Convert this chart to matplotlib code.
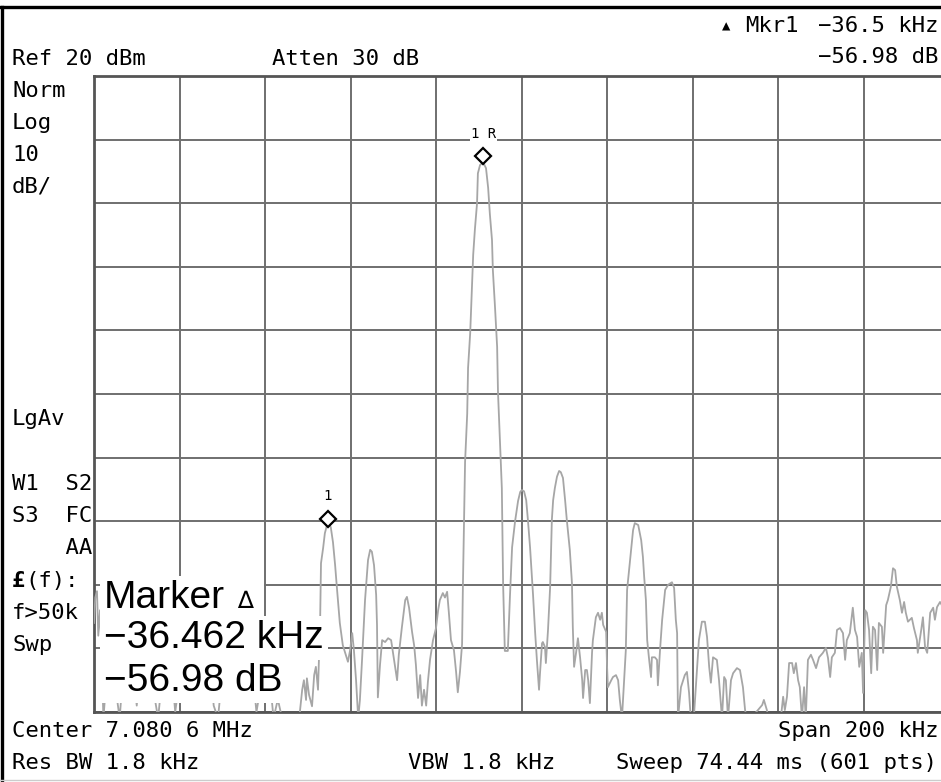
import matplotlib
matplotlib.use('Agg')
import matplotlib.pyplot as plt
import numpy as np
from matplotlib import transforms
from matplotlib.lines import Line2D
from matplotlib.patches import Rectangle

# screen capture size in pixels
W, H = 941, 782

# trace: offset from centre (kHz) and level (dBm)
freq_khz = [
    -100.0, -99.7, -99.3, -99.0, -98.6, -98.3, -97.8, -97.0, -96.0, -95.0,
    -94.0, -93.0, -92.0, -91.0, -90.0, -89.0, -88.0, -87.0, -86.0, -85.0,
    -84.0, -83.0, -82.0, -81.0, -80.0, -79.0, -78.0, -77.0, -76.0, -75.0,
    -74.0, -73.0, -72.0, -71.0, -70.0, -69.0, -68.0, -67.0, -66.0, -65.0,
    -64.0, -63.0, -62.0, -61.0, -60.0, -59.0, -58.0, -57.0, -56.0, -55.0,
    -54.0, -53.0, -52.0, -51.3, -50.9, -50.4, -50.2, -49.7, -49.0, -48.5,
    -48.1, -47.6, -47.1, -46.9, -46.4, -46.0, -45.5, -45.0, -44.6, -44.1,
    -43.6, -43.2, -42.5, -41.8, -41.1, -40.6, -40.1, -39.6, -39.2, -38.7,
    -38.2, -37.8, -37.3, -36.6, -35.9, -35.4, -35.0, -34.5, -34.0, -33.8,
    -33.6, -33.1, -32.6, -31.9, -31.2, -30.5, -29.8, -29.1, -28.7, -28.0,
    -27.2, -26.8, -26.3, -25.6, -25.1, -24.7, -24.2, -23.7, -23.3, -22.8,
    -22.3, -21.9, -21.4, -20.7, -20.0, -19.5, -19.1, -18.4, -17.9, -17.4,
    -17.0, -16.5, -15.8, -15.3, -14.9, -14.4, -13.9, -13.7, -13.2, -12.7,
    -12.5, -12.0, -11.6, -11.3, -10.9, -10.4, -10.2, -9.7, -9.2, -8.8,
    -8.3, -7.8, -7.4, -6.9, -6.7, -6.2, -5.7, -5.5, -5.0, -4.6,
    -4.3, -3.9, -3.2, -2.7, -2.2, -1.5, -0.8, -0.3, 0.1, 0.6,
    1.1, 1.5, 2.0, 2.7, 3.2, 3.6, 4.1, 4.3, 4.8, 5.0,
    5.5, 5.7, 6.2, 6.7, 7.1, 7.4, 7.8, 8.3, 8.8, 9.2,
    9.7, 10.2, 10.6, 11.3, 11.8, 12.0, 12.3, 12.7, 13.2, 13.7,
    14.2, 14.4, 14.9, 15.3, 15.6, 16.0, 16.5, 16.7, 17.4, 17.9,
    18.4, 18.8, 19.1, 19.8, 20.0, 20.2, 21.0, 21.4, 22.1, 22.6,
    23.0, 23.5, 24.0, 24.4, 24.7, 25.4, 26.1, 26.5, 27.3, 28.0,
    28.4, 28.7, 29.1, 29.4, 29.8, 30.3, 30.5, 31.2, 31.7, 31.9,
    32.4, 32.9, 33.6, 34.3, 35.2, 35.7, 36.1, 36.4, 36.6, 37.3,
    38.2, 38.7, 39.2, 39.6, 40.4, 41.1, 41.5, 42.2, 42.9, 43.4,
    43.9, 44.3, 44.8, 45.7, 46.2, 46.9, 47.4, 47.8, 48.3, 49.0,
    49.5, 50.4, 51.1, 51.8, 52.3, 53.0, 54.2, 54.9, 55.3, 56.3,
    56.7, 57.4, 58.1, 60.5, 61.2, 61.6, 62.1, 62.6, 63.3, 63.7,
    64.2, 64.7, 65.1, 65.6, 66.1, 66.5, 67.0, 67.7, 68.2, 68.9,
    69.6, 70.5, 71.2, 71.7, 72.2, 72.6, 73.3, 73.8, 74.5, 75.2,
    75.7, 76.1, 76.8, 77.5, 78.0, 78.5, 79.0, 79.6, 79.9, 80.4,
    80.8, 81.3, 81.8, 82.2, 82.7, 83.2, 83.6, 84.3, 84.6, 85.3,
    85.7, 86.4, 86.9, 87.4, 87.8, 88.5, 89.0, 89.5, 89.9, 90.4,
    91.3, 91.8, 92.5, 92.7, 93.5, 93.9, 94.4, 94.9, 95.6, 96.3,
    96.7, 97.2, 97.9, 99.0, 100.0,
]
level_dbm = [
    -66, -62, -61, -68, -64, -69, -81, -74, -70, -76,
    -81, -72, -68, -73, -79, -71, -66, -70, -77, -81,
    -74, -69, -72, -80, -75, -68, -65, -70, -78, -72,
    -67, -71, -79, -81, -74, -69, -66, -70, -76, -72,
    -68, -73, -80, -76, -71, -74, -81, -78, -81, -81,
    -81, -81, -81, -76.5, -75.0, -78.1, -74.7, -77.3, -79.1, -74.2,
    -72.9, -76.5, -65.5, -56.6, -54.2, -51.9, -50.6, -50.3, -51.0, -53.3,
    -56.9, -60.3, -66.0, -69.5, -71.0, -72.1, -70.3, -67.6, -70.3, -75.0,
    -81.0, -78.1, -71.8, -62.4, -56.1, -54.5, -54.8, -56.9, -61.6, -66.3,
    -77.7, -72.6, -68.7, -69.0, -68.4, -68.7, -71.8, -75.0, -71.0, -66.8,
    -62.4, -61.9, -63.6, -67.4, -69.6, -72.6, -77.8, -74.2, -79.0, -76.5,
    -79.0, -75.3, -71.8, -68.7, -66.8, -64.0, -62.4, -61.3, -62.0, -61.1,
    -64.3, -68.7, -70.3, -73.7, -76.9, -73.7, -69.3, -59.9, -40.7, -33.1,
    -25.9, -20.4, -13.3, -8.1, -4.1, 0.0, 4.7, 6.0, 6.3, 6.2,
    5.5, 2.4, -1.7, -5.8, -10.5, -16.3, -22.6, -29.7, -37.9, -44.8,
    -59.9, -70.4, -70.4, -61.8, -54.1, -50.0, -46.8, -45.4, -45.1, -45.3,
    -46.7, -49.8, -54.1, -61.6, -67.6, -71.8, -76.5, -74.2, -69.2, -69.0,
    -69.8, -72.3, -67.1, -60.3, -49.8, -46.7, -44.8, -43.0, -42.1, -42.3,
    -43.2, -46.7, -49.8, -54.5, -59.7, -66.6, -72.9, -71.0, -68.4, -71.4,
    -75.0, -77.8, -73.4, -73.4, -75.0, -78.6, -70.7, -68.7, -65.1, -64.4,
    -65.5, -64.4, -66.3, -67.4, -72.6, -76.1, -75.0, -74.5, -74.2, -75.0,
    -78.1, -81.0, -75.0, -70.3, -60.8, -56.1, -51.4, -50.3, -50.6, -53.0,
    -55.6, -58.8, -62.4, -68.7, -71.4, -74.5, -71.4, -71.4, -71.8, -75.8,
    -70.3, -65.5, -60.8, -60.0, -59.6, -60.5, -65.5, -67.6, -81.0, -76.1,
    -74.2, -73.7, -77.0, -81.0, -80.0, -72.9, -68.7, -65.8, -65.8, -68.2,
    -72.9, -75.4, -71.4, -71.8, -75.0, -81.0, -74.5, -75.0, -81.0, -75.0,
    -73.9, -73.1, -73.4, -76.1, -79.7, -82.0, -82.0, -80.0, -79.7, -78.9,
    -78.1, -79.7, -82.0, -82.0, -77.6, -79.7, -77.6, -72.3, -72.3, -73.9,
    -72.3, -75.0, -76.1, -81.0, -76.1, -81.0, -71.8, -71.0, -71.8, -73.1,
    -71.4, -70.7, -69.9, -71.5, -74.5, -71.4, -70.7, -67.1, -66.8, -67.6,
    -71.8, -68.7, -67.6, -63.6, -67.1, -68.2, -72.9, -70.7, -77.0, -64.0,
    -64.4, -67.1, -73.9, -66.6, -67.1, -73.4, -66.0, -66.6, -70.7, -63.2,
    -62.4, -60.3, -57.4, -57.7, -60.3, -62.4, -64.4, -62.7, -64.4, -65.8,
    -65.2, -66.8, -68.7, -70.7, -67.1, -65.1, -69.8, -70.7, -64.4, -63.6,
    -65.5, -63.5, -62.7, -64.0, -62.0,
]

# markers: 1R on the carrier, 1 on the lower sideband
marker_khz = [-8.9, -45.36]
marker_dbm = [6.3, -50.7]
marker_tags = ['1 R', '1']

ref_dbm = 20
db_div = 10
span_khz = 200

MONO = 'DejaVu Sans Mono'

fig = plt.figure(figsize=(W / 100, H / 100), dpi=100)
fig.patch.set_facecolor('white')

# graticule: 10 x 10 divisions, right edge runs just past the capture
ax = fig.add_axes([94 / W, 1 - 712 / H, 855 / W, 636 / H])
ax.set_xlim(-span_khz / 2, span_khz / 2)
ax.set_ylim(ref_dbm - 10 * db_div, ref_dbm)
ax.set_xticks(np.arange(-span_khz / 2, span_khz / 2 + 1, span_khz / 10))
ax.set_yticks(np.arange(ref_dbm - 10 * db_div, ref_dbm + 1, db_div))
ax.tick_params(length=0, labelbottom=False, labelleft=False)
ax.grid(True, color='#6f6f6f', lw=1.4)
for s in ax.spines.values():
    s.set_color('#555555')
    s.set_linewidth(2.0)

ax.plot(freq_khz, level_dbm, color='#a6a6a6', lw=1.3, zorder=3)

# diamonds sit just above the trace point, tags above them
lift = transforms.offset_copy(ax.transData, fig=fig, x=0, y=5, units='points')
ax.plot(marker_khz, marker_dbm, ls='none', marker='D', ms=8, mfc='white',
        mec='black', mew=1.6, transform=lift, zorder=5, clip_on=False)
for f, l, t in zip(marker_khz, marker_dbm, marker_tags):
    ax.annotate(t, (f, l), xytext=(0, 21), textcoords='offset points',
                ha='center', va='center', family=MONO, fontsize=10,
                bbox=dict(fc='white', ec='none', pad=1), zorder=6)


def label(x, y, s, **kw):
    kw.setdefault('family', MONO)
    kw.setdefault('fontsize', 16)
    kw.setdefault('va', 'center')
    fig.text(x / W, 1 - y / H, s, **kw)


# header
label(722, 26, '\u25b2', fontsize=10)
label(745, 26, 'Mkr1')
label(938, 26, '\u221236.5 kHz', ha='right')
label(12, 59, 'Ref 20 dBm')
label(272, 59, 'Atten 30 dB')
label(938, 57, '\u221256.98 dB', ha='right')

# left column
label(12, 91, 'Norm')
label(12, 123, 'Log')
label(12, 155, '10')
label(12, 187, 'dB/')
label(12, 419, 'LgAv')
label(12, 484, 'W1  S2')
label(12, 516, 'S3  FC')
label(12, 548, '    AA')
label(12, 581, '\u00a3', fontweight='bold')
label(25, 581, '(f):')
label(12, 613, 'f>50k')
label(12, 645, 'Swp')

# footer
label(12, 731, 'Center 7.080 6 MHz')
label(938, 731, 'Span 200 kHz', ha='right')
label(12, 763, 'Res BW 1.8 kHz')
label(408, 763, 'VBW 1.8 kHz')
label(937, 763, 'Sweep 74.44 ms (601 pts)', ha='right')

# marker readout box over the graticule
big = dict(family=['Liberation Sans', 'DejaVu Sans'], fontsize=28,
           bbox=dict(fc='white', ec='none', pad=3), zorder=10)
fig.add_artist(Rectangle((226 / W, 1 - 619 / H), 38 / W, 42 / H,
                         transform=fig.transFigure, fc='white', ec='none',
                         zorder=9))
label(104, 598, 'Marker', **big)
label(237, 601, '\u2206', family='DejaVu Sans', fontsize=17, zorder=11)
label(104, 638, '\u221236.462 kHz', **big)
label(104, 681, '\u221256.98 dB', **big)

# screen frame
fig.add_artist(Line2D([0, 1], [1 - 7 / H, 1 - 7 / H], color='black', lw=2.4))
fig.add_artist(Line2D([1.5 / W, 1.5 / W], [0, 1 - 7 / H], color='black', lw=2.4))
fig.add_artist(Line2D([0, 1], [2 / H, 2 / H], color='#cccccc', lw=1))

fig.savefig('out.png', dpi=100)
